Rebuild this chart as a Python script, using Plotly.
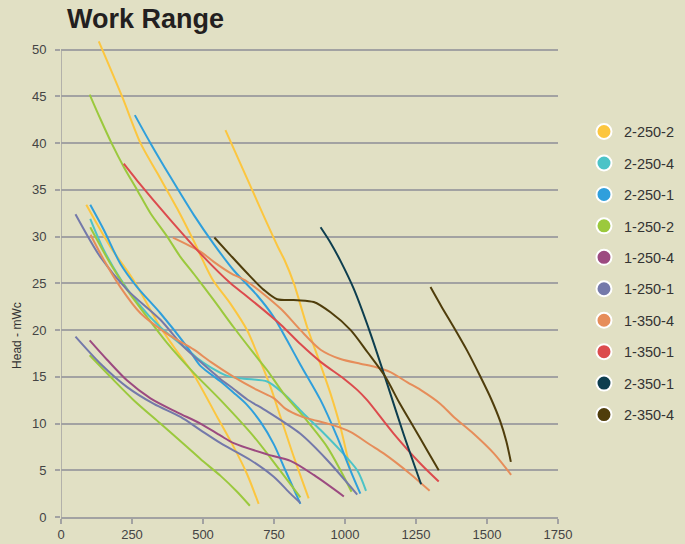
import plotly.graph_objects as go

# ---------------- data ----------------
series_names = ["2-250-2", "2-250-4", "2-250-1", "1-250-2", "1-250-4",
                "1-250-1", "1-350-4", "1-350-1", "2-350-1", "2-350-4"]
series_colors = ["#fcc63f", "#4cc3c7", "#2f9fdc", "#9bc93d", "#9c4a80",
                 "#7479aa", "#e68d5a", "#dc4b4d", "#0d3e4f", "#4f3d0b"]

x_ticks = [0, 250, 500, 750, 1000, 1250, 1500, 1750]
y_ticks = [0, 5, 10, 15, 20, 25, 30, 35, 40, 45, 50]

# 2-250-2 (yellow)
s2502_a_flow = [133, 215, 280, 339, 409, 468, 532, 597, 655, 700, 738, 773, 820, 872]
s2502_a_head = [50.9, 45.0, 40.0, 36.8, 33.0, 29.5, 25.5, 22.8, 20.0, 16.8, 13.9, 10.7, 6.4, 2.0]
s2502_b_flow = [89, 174, 256, 350, 395, 468, 550, 608, 655, 696]
s2502_b_head = [33.4, 28.9, 25.3, 20.3, 18.3, 15.2, 10.7, 7.5, 4.6, 1.4]
s2502_c_flow = [579, 673, 720, 767, 787, 820, 867, 908, 949, 984, 1019]
s2502_c_head = [41.4, 35.0, 31.8, 28.7, 27.5, 25.0, 20.3, 16.8, 13.2, 9.6, 5.0]

# 2-250-4 (cyan)
s2504_a_flow = [103, 150, 209, 268, 350, 450, 479, 527, 585, 644, 726, 784, 843, 914, 984, 1043, 1074]
s2504_a_head = [31.9, 28.6, 25.5, 23.0, 20.3, 17.8, 17.0, 16.0, 15.1, 14.8, 14.5, 13.2, 11.4, 9.3, 7.1, 5.0, 2.8]

# 2-250-1 (blue)
s2501_a_flow = [260, 315, 385, 468, 538, 608, 691, 749, 796, 843, 914, 972, 1019, 1054]
s2501_a_head = [43.0, 40.0, 36.4, 32.3, 29.2, 26.4, 23.7, 21.4, 18.9, 16.3, 12.5, 8.6, 5.0, 2.5]
s2501_b_flow = [103, 151, 209, 268, 350, 444, 490, 562, 608, 655, 702, 749, 790, 843]
s2501_b_head = [33.4, 30.7, 27.1, 24.6, 21.8, 18.2, 16.2, 14.5, 13.3, 12.0, 10.2, 7.8, 5.0, 1.4]

# 1-250-2 (green)
s1502_a_flow = [101, 140, 178, 222, 268, 315, 374, 421, 468, 538, 608, 679, 726, 784, 855, 937, 984, 1023]
s1502_a_head = [45.2, 42.5, 40.0, 37.4, 35.0, 32.5, 30.0, 27.8, 26.0, 23.2, 20.3, 17.5, 15.7, 13.2, 10.7, 7.5, 5.0, 2.7]
s1502_b_flow = [103, 174, 233, 303, 374, 468, 562, 679, 761, 843]
s1502_b_head = [31.0, 27.1, 24.3, 21.4, 18.6, 15.4, 12.5, 8.6, 5.4, 2.1]
s1502_c_flow = [101, 174, 256, 350, 444, 491, 562, 620, 665]
s1502_c_head = [17.3, 15.0, 12.5, 10.0, 7.5, 6.2, 4.4, 2.7, 1.2]

# 1-250-4 (purple)
s1504_a_flow = [101, 163, 233, 315, 409, 491, 562, 608, 726, 808, 890, 996]
s1504_a_head = [18.9, 16.8, 14.6, 12.7, 11.2, 10.0, 8.7, 7.9, 6.7, 6.0, 4.5, 2.2]

# 1-250-1 (lavender)
s1501_a_flow = [51, 139, 233, 350, 432, 491, 560, 608, 655, 726, 843, 937, 1043]
s1501_a_head = [32.4, 27.8, 24.3, 21.1, 18.2, 16.6, 14.8, 13.7, 12.6, 11.3, 8.9, 6.1, 2.4]
s1501_b_flow = [51, 139, 233, 327, 421, 491, 562, 667, 749, 808, 843]
s1501_b_head = [19.3, 16.4, 13.9, 12.1, 10.7, 9.3, 7.9, 6.1, 4.3, 2.5, 1.5]

# 1-350-4 (orange)
s3504_a_flow = [104, 151, 209, 280, 374, 468, 527, 608, 690, 750, 790, 843, 900, 960, 1019, 1090, 1136, 1230, 1298]
s3504_a_head = [30.2, 27.5, 24.6, 21.8, 19.6, 17.9, 16.6, 15.0, 13.6, 12.7, 11.6, 10.8, 10.3, 9.8, 9.1, 7.7, 6.8, 4.6, 2.8]
s3504_b_flow = [394, 491, 538, 597, 655, 773, 843, 914, 984, 1054, 1101, 1160, 1220, 1266, 1336, 1383, 1453, 1524, 1585]
s3504_b_head = [29.9, 28.4, 27.3, 26.1, 25.2, 22.3, 20.0, 17.9, 16.9, 16.4, 16.1, 15.5, 14.4, 13.6, 12.1, 10.7, 8.9, 6.8, 4.5]

# 1-350-1 (red)
s3501_a_flow = [221, 268, 385, 503, 597, 655, 773, 843, 914, 996, 1043, 1078, 1172, 1266, 1330]
s3501_a_head = [37.8, 36.0, 31.8, 27.8, 25.0, 23.6, 20.6, 18.5, 16.6, 14.8, 13.6, 12.5, 8.9, 5.7, 3.8]

# 2-350-1 (dark teal)
s2351_a_flow = [914, 950, 984, 1031, 1090, 1148, 1207, 1268]
s2351_a_head = [31.0, 29.3, 27.4, 24.4, 19.6, 14.3, 8.8, 3.5]

# 2-350-4 (dark olive)
s2354_a_flow = [540, 597, 655, 714, 761, 832, 890, 949, 1020, 1080, 1142, 1190, 1242, 1290, 1330]
s2354_a_head = [29.9, 28.0, 26.1, 24.3, 23.3, 23.2, 23.0, 21.9, 20.0, 17.6, 15.0, 12.3, 9.6, 7.1, 5.0]
s2354_b_flow = [1301, 1340, 1383, 1430, 1477, 1515, 1547, 1568, 1584]
s2354_b_head = [24.6, 22.5, 20.3, 17.8, 15.0, 12.6, 10.2, 8.1, 5.9]

curves = {
    "2-250-2": [(s2502_a_flow, s2502_a_head), (s2502_b_flow, s2502_b_head), (s2502_c_flow, s2502_c_head)],
    "2-250-4": [(s2504_a_flow, s2504_a_head)],
    "2-250-1": [(s2501_a_flow, s2501_a_head), (s2501_b_flow, s2501_b_head)],
    "1-250-2": [(s1502_a_flow, s1502_a_head), (s1502_b_flow, s1502_b_head), (s1502_c_flow, s1502_c_head)],
    "1-250-4": [(s1504_a_flow, s1504_a_head)],
    "1-250-1": [(s1501_a_flow, s1501_a_head), (s1501_b_flow, s1501_b_head)],
    "1-350-4": [(s3504_a_flow, s3504_a_head), (s3504_b_flow, s3504_b_head)],
    "1-350-1": [(s3501_a_flow, s3501_a_head)],
    "2-350-1": [(s2351_a_flow, s2351_a_head)],
    "2-350-4": [(s2354_a_flow, s2354_a_head), (s2354_b_flow, s2354_b_head)],
}

# ---------------- figure ----------------
BG = "#e1e0c4"
GRID = "#a2a2a2"
FONT = "Liberation Sans"

fig = go.Figure()

for name, color in zip(series_names, series_colors):
    for fx, hy in curves[name]:
        fig.add_trace(go.Scatter(
            x=fx, y=hy, mode="lines", name=name, legendgroup=name,
            showlegend=False, hoverinfo="skip",
            line=dict(color=color, width=2, shape="spline", smoothing=0.8),
        ))

for name, color in zip(series_names, series_colors):
    fig.add_trace(go.Scatter(
        x=[None], y=[None], mode="markers", name=name, legendgroup=name,
        showlegend=True,
        marker=dict(symbol="circle", size=15, color=color,
                    line=dict(color="white", width=2)),
    ))

# y-axis line only up to 50
fig.add_shape(type="line", xref="x", yref="y", x0=0, x1=0, y0=0, y1=50,
              line=dict(color=GRID, width=1.5), layer="above")

fig.update_layout(
    width=685, height=544,
    autosize=False,
    paper_bgcolor=BG, plot_bgcolor=BG,
    margin=dict(l=61, r=127, t=38, b=27, autoexpand=False),
    title=dict(text="Work Range", x=67 / 685, xref="container", xanchor="left",
               y=1 - 19 / 544, yref="container", yanchor="middle",
               font=dict(family=FONT, size=27, color="#231f20", weight="bold")),
    xaxis=dict(range=[0, 1750], tickvals=x_ticks, showgrid=False, zeroline=False,
               showline=True, linecolor=GRID, linewidth=1.5,
               ticks="outside", ticklen=5, tickcolor=GRID, tickwidth=1.5,
               tickfont=dict(family=FONT, size=13, color="#444444")),
    yaxis=dict(range=[0, 51.25], tickvals=y_ticks, showgrid=True, gridcolor=GRID,
               gridwidth=1.5, zeroline=False, showline=False,
               ticks="outside", ticklen=5, tickcolor=GRID, tickwidth=1.5,
               ticklabelstandoff=6,
               tickfont=dict(family=FONT, size=13, color="#444444")),
    legend=dict(x=1.0523, xanchor="left", y=0.838, yanchor="top",
                bgcolor="rgba(0,0,0,0)", tracegroupgap=9.6,
                font=dict(family=FONT, size=14.5, color="#333333"),
                traceorder="grouped"),
    annotations=[dict(text="Head - mWc", xref="paper", yref="paper",
                      x=-0.0885, y=0.378, showarrow=False, textangle=-90,
                      xanchor="center", yanchor="middle",
                      font=dict(family=FONT, size=12, color="#333333"))],
    showlegend=True,
)

fig.write_html(
    "out.html",
    config={"displayModeBar": False},
    post_script="document.body.style.margin='0px';"
                "document.body.style.background='" + BG + "';",
)
